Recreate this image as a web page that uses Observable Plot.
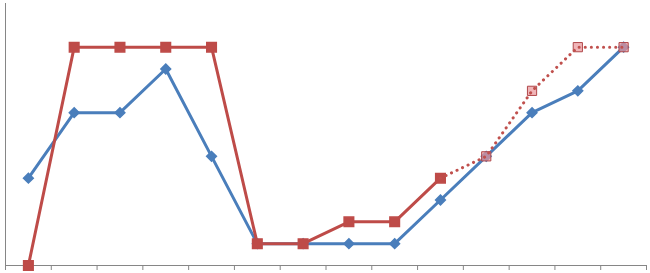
<!DOCTYPE html>
<html><head><meta charset="utf-8">
<script src="https://cdn.jsdelivr.net/npm/d3@7"></script>
<script src="https://cdn.jsdelivr.net/npm/@observablehq/plot@0.6"></script>
<style>html,body{margin:0;padding:0;background:#fff;}</style>
</head><body><div id="chart"></div>
<script>
const categories = [1,2,3,4,5,6,7,8,9,10,11,12,13,14];
const blueValues = [4,7,7,9,5,1,1,1,1,3,5,7,8,10];
const redActual = [0,10,10,10,10,1,1,2,2,4];
const redForecast = [4,5,8,10,10]; // starts at category 10
const forecastStart = 9;

const blue = categories.map((c,i)=>({x:i+0.5, y:blueValues[i]}));
const red = redActual.map((v,i)=>({x:i+0.5, y:v}));
const redF = redForecast.map((v,i)=>({x:forecastStart+i+0.5, y:v}));

const plot = Plot.plot({
  width: 650, height: 273,
  marginLeft: 5, marginRight: 4, marginTop: 3, marginBottom: 8,
  x: {domain:[0,categories.length], axis:null},
  y: {domain:[0,12], axis:null},
  marks: [
    Plot.ruleY([0], {stroke:"#868686", strokeWidth:1, strokeOpacity:1}),
    Plot.ruleX([0], {y1:0, y2:12, stroke:"#868686", strokeWidth:1, strokeOpacity:1}),
    Plot.axisX({ticks:d3.range(categories.length+1), tickFormat:()=>"", tickSize:5, stroke:"#868686", label:null}),
    Plot.line(blue, {x:"x", y:"y", stroke:"#4A7EBB", strokeWidth:3}),
    Plot.line(red, {x:"x", y:"y", stroke:"#BE4B48", strokeWidth:3}),
    Plot.dot(blue, {x:"x", y:"y", symbol:"diamond2", r:4.4, fill:"#4A7EBB", stroke:"#4A7EBB"}),
    Plot.dot(red, {x:"x", y:"y", symbol:"square", r:5.4, fill:"#BE4B48", stroke:"#BE4B48"}),
    Plot.dot(redF.slice(1), {x:"x", y:"y", symbol:"square", r:5.2, fill:"#E9959A", fillOpacity:0.7, stroke:"#B0474A", strokeWidth:1}),
    Plot.line(redF, {x:"x", y:"y", stroke:"#C0504D", strokeWidth:3, strokeDasharray:"0.1 6", strokeLinecap:"round"})
  ]
});
document.getElementById("chart").appendChild(plot);
</script>
</body></html>
